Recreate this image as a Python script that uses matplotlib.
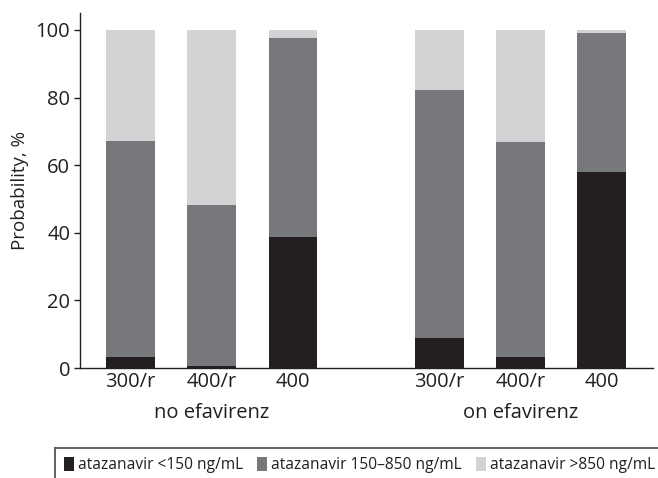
import matplotlib
matplotlib.use("Agg")
import matplotlib.pyplot as plt
import numpy as np
from matplotlib.patches import Patch
from matplotlib.lines import Line2D

plt.rcParams['font.family'] = ['Open Sans', 'DejaVu Sans']

doses = ["300/r", "400/r", "400", "300/r", "400/r", "400"]
groups = ["no efavirenz", "on efavirenz"]
low = [3.3, 0.7, 38.8, 9.0, 3.3, 58.0]
mid_top = [67.2, 48.2, 97.6, 82.2, 66.9, 99.1]
series_names = ["atazanavir <150 ng/mL", "atazanavir 150\u2013850 ng/mL", "atazanavir >850 ng/mL"]
colors = ["#231f20", "#77787b", "#d1d3d4"]

low = np.array(low)
mid = np.array(mid_top) - low
high = 100 - np.array(mid_top)

pos = np.array([0, 1, 2, 3.8, 4.8, 5.8])

W, H = 658, 478
fig = plt.figure(figsize=(W / 100, H / 100), dpi=100)
ax = fig.add_axes([80 / W, 1 - 368 / H, 573 / W, 355 / H])
w = 0.6
ax.bar(pos, low, w, color=colors[0])
ax.bar(pos, mid, w, bottom=low, color=colors[1])
ax.bar(pos, high, w, bottom=low + mid, color=colors[2])

ax.set_xlim(-0.62, 6.43)
ax.set_ylim(0, 105)
ax.set_yticks([0, 20, 40, 60, 80, 100])
ax.tick_params(axis='y', labelsize=14.5, length=4, width=1, color='#231f20',
               labelcolor='#231f20', pad=3)
ax.set_xticks(pos)
ax.set_xticklabels(doses)
ax.tick_params(axis='x', labelsize=14.5, length=0, pad=3, labelcolor='#231f20')
for s in ['top', 'right']:
    ax.spines[s].set_visible(False)
for s in ['left', 'bottom']:
    ax.spines[s].set_color('#231f20')
    ax.spines[s].set_linewidth(1.0)
ax.set_ylabel("Probability, %", fontsize=13.5, color='#231f20', labelpad=5)

centers = [pos[:3].mean(), pos[3:].mean()]
for c, g in zip(centers, groups):
    ax.text(c, -45 / 355, g, transform=ax.get_xaxis_transform(), ha='center', va='center',
            fontsize=14.5, color='#231f20')

handles = [Patch(facecolor=c, edgecolor='none') for c in colors]
leg = fig.legend(handles, series_names, loc='center left', bbox_to_anchor=(64 / W, 1 - 465 / H),
                 ncol=3, frameon=False, fontsize=11.2, handlelength=0.65,
                 handleheight=1.05, handletextpad=0.25, columnspacing=0.9, borderpad=0,
                 borderaxespad=0)
for t in leg.get_texts():
    t.set_color('#231f20')

# legend frame (cut off at right and bottom as in the reference)
fig.add_artist(Line2D([55 / W, 1], [1 - 448 / H, 1 - 448 / H], transform=fig.transFigure,
                      color='#555555', lw=1.3))
fig.add_artist(Line2D([55 / W, 55 / W], [1 - 448 / H, 0], transform=fig.transFigure,
                      color='#555555', lw=1.3))

fig.savefig("out.png", dpi=100)
